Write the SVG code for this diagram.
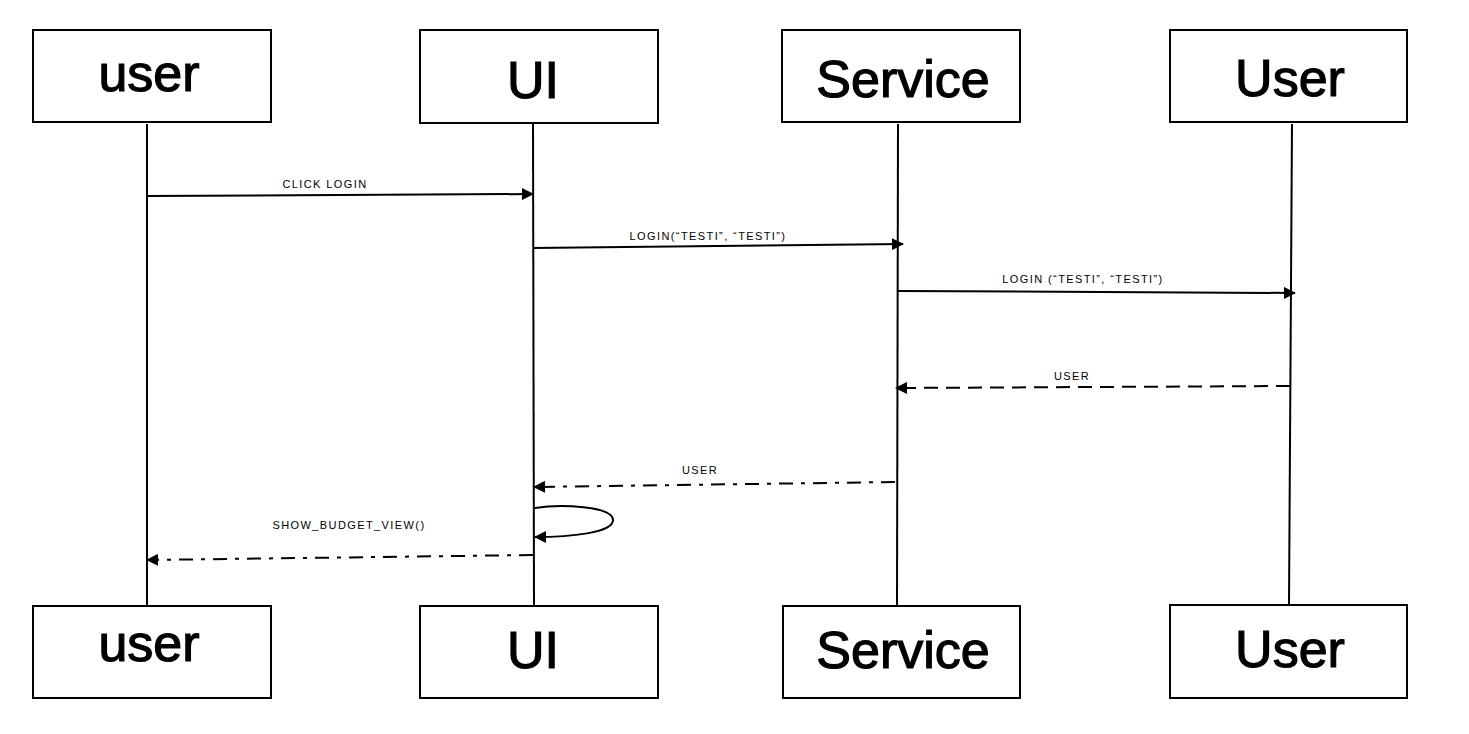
<svg xmlns="http://www.w3.org/2000/svg" width="1469" height="734" viewBox="0 0 1469 734">
<defs>
<style>
.box{fill:#fff;stroke:#000;stroke-width:2}
.name{font-family:"Liberation Sans",Arial,sans-serif;font-size:52px;fill:#000;stroke:#000;stroke-width:1.2;text-anchor:middle}
.life{stroke:#000;stroke-width:2;fill:none}
.msg{stroke:#000;stroke-width:2;fill:none}
.dash{stroke-dasharray:14 8}
.dashdot{stroke-dasharray:14 8 4 8}
.lbl{font-family:"Liberation Sans",Arial,sans-serif;font-size:11px;letter-spacing:1.4px;fill:#000;text-anchor:middle}
</style>
<marker id="ah" viewBox="0 0 12 12" refX="11" refY="6" markerWidth="12" markerHeight="12" markerUnits="userSpaceOnUse" orient="auto">
<path d="M0,0 L12,6 L0,12 Z" fill="#000"/>
</marker>
</defs>
<rect width="1469" height="734" fill="#fff"/>
<g id="lifelines">
<line class="life" x1="147" y1="124" x2="147" y2="607"/>
<line class="life" x1="533" y1="124" x2="534" y2="606"/>
<line class="life" x1="898" y1="124" x2="897" y2="605"/>
<line class="life" x1="1292" y1="124" x2="1289" y2="605"/>
</g>
<g id="node-user-top"><rect class="box" x="33" y="30" width="238" height="92"/><text class="name" x="149" y="91">user</text></g>
<g id="node-ui-top"><rect class="box" x="420" y="30" width="238" height="93"/><text class="name" x="533" y="98">UI</text></g>
<g id="node-service-top"><rect class="box" x="782" y="30" width="238" height="92"/><text class="name" x="903" y="97">Service</text></g>
<g id="node-User-top"><rect class="box" x="1170" y="30" width="237" height="92"/><text class="name" x="1290" y="96">User</text></g>
<g id="node-user-bottom"><rect class="box" x="33" y="606" width="238" height="92"/><text class="name" x="149" y="661">user</text></g>
<g id="node-ui-bottom"><rect class="box" x="420" y="606" width="238" height="92"/><text class="name" x="533" y="668">UI</text></g>
<g id="node-service-bottom"><rect class="box" x="783" y="606" width="237" height="92"/><text class="name" x="903" y="668">Service</text></g>
<g id="node-User-bottom"><rect class="box" x="1170" y="605" width="237" height="93"/><text class="name" x="1290" y="667">User</text></g>
<g id="connectors">
<path class="msg" d="M147,196 L533,194" marker-end="url(#ah)"/>
<text class="lbl" x="325" y="188">CLICK  LOGIN</text>
<path class="msg" d="M533,248 L903,244" marker-end="url(#ah)"/>
<text class="lbl" x="708" y="240">LOGIN(“TESTI”,   “TESTI”)</text>
<path class="msg" d="M898,291 L1295,293" marker-end="url(#ah)"/>
<text class="lbl" x="1083" y="283">LOGIN (“TESTI”,  “TESTI”)</text>
<path class="msg dash" d="M1290,386 L896,388" marker-end="url(#ah)"/>
<text class="lbl" x="1072" y="380">USER</text>
<path class="msg dashdot" d="M895,482 L534,487" marker-end="url(#ah)"/>
<text class="lbl" x="700" y="474">USER</text>
<path class="msg" d="M535,508 C560,504 613,506 613,520 C613,533 570,537 535,537" marker-end="url(#ah)"/>
<path class="msg dashdot" d="M533,555 L147,560" marker-end="url(#ah)"/>
<text class="lbl" x="349" y="529">SHOW_BUDGET_VIEW()</text>
</g>
</svg>
